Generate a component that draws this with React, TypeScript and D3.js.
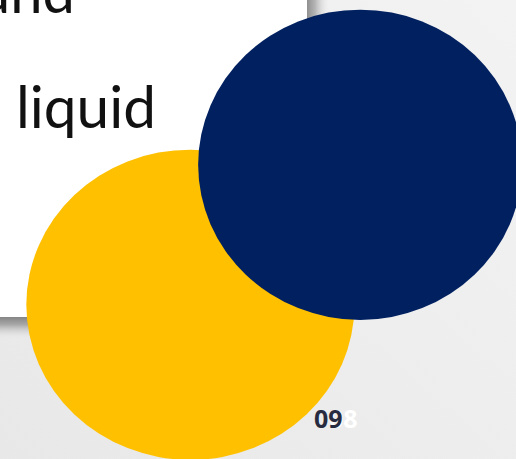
import React from "react";
import * as d3 from "d3";

const W = 516;
const H = 459;

// Slide content
const words = ["und", "liquid"];
const pageLabels = ["08", "09"];
const blobNames = ["yellow", "navy"];
// blob centres / radii in slide units (0..100 on each axis)
const blobCx = [36.9, 69.8];
const blobCy = [66.4, 35.9];
const blobRx = [31.8, 31.4];
const blobRy = [33.8, 33.8];
const blobColors = ["#FFC000", "#002060"];

const x = d3.scaleLinear().domain([0, 100]).range([0, W]);
const y = d3.scaleLinear().domain([0, 100]).range([0, H]);

export default function App() {
  const boxW = 307;
  const boxH = 317;
  return (
    <svg width={W} height={H} style={{ position: "absolute", left: 0, top: 0, display: "block" }}>
      <defs>
        <linearGradient id="bg" x1="0" y1="1" x2="1" y2="0">
          <stop offset="0%" stopColor="#e8e8e8" />
          <stop offset="100%" stopColor="#f3f3f3" />
        </linearGradient>
        <linearGradient id="shB" x1="0" y1="0" x2="0" y2="1">
          <stop offset="0%" stopColor="#858585" />
          <stop offset="35%" stopColor="#a8a8a8" />
          <stop offset="100%" stopColor="#e9e9e9" stopOpacity="0" />
        </linearGradient>
        <linearGradient id="shR" x1="0" y1="0" x2="1" y2="0">
          <stop offset="0%" stopColor="#8f8f8f" />
          <stop offset="35%" stopColor="#b5b5b5" />
          <stop offset="100%" stopColor="#f0f0f0" stopOpacity="0" />
        </linearGradient>
      </defs>
      <rect x={0} y={0} width={W} height={H} fill="url(#bg)" />
      {/* shadows */}
      <rect x={0} y={boxH} width={boxW + 10} height={22} fill="url(#shB)" />
      <rect x={boxW} y={0} width={23} height={boxH + 10} fill="url(#shR)" />
      {/* white text box */}
      <rect x={0} y={0} width={boxW} height={boxH} fill="#ffffff" />
      <text x={-22} y={13} fontFamily="Lato, 'Open Sans', sans-serif" fontSize={58} fill="#111111" textLength={97} lengthAdjust="spacingAndGlyphs">
        {words[0]}
      </text>
      <text x={16} y={128} fontFamily="Lato, 'Open Sans', sans-serif" fontSize={58} fill="#111111" textLength={140} lengthAdjust="spacingAndGlyphs">
        {words[1]}
      </text>
      {blobNames.map((n, i) => (
        <ellipse
          key={n}
          cx={x(blobCx[i])}
          cy={y(blobCy[i])}
          rx={x(blobRx[i]) - x(0)}
          ry={y(blobRy[i]) - y(0)}
          fill={blobColors[i]}
        />
      ))}
      <text x={329} y={428} fontFamily="'Open Sans', sans-serif" fontWeight={700} fontSize={25} fill="#ffffff">
        {pageLabels[0]}
      </text>
      <text x={314} y={428} fontFamily="'Open Sans', sans-serif" fontWeight={700} fontSize={25} fill="#262b40">
        {pageLabels[1]}
      </text>
    </svg>
  );
}
